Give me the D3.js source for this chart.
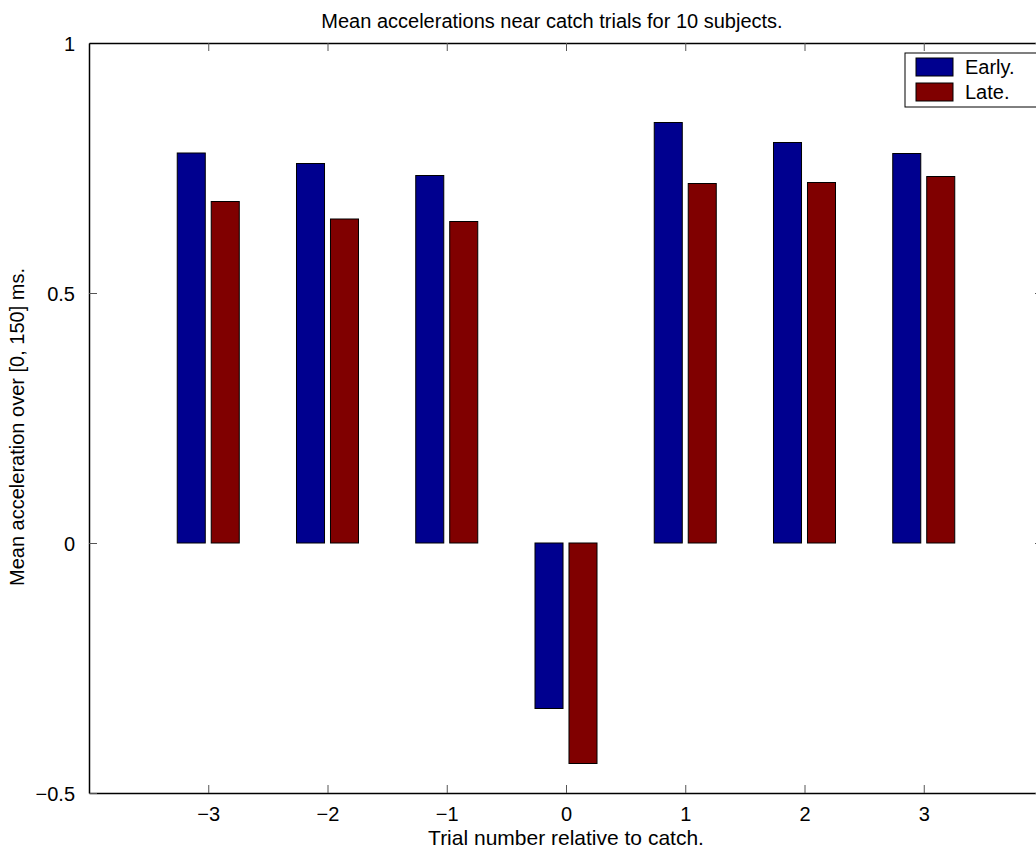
<!DOCTYPE html>
<html>
<head>
<meta charset="utf-8">
<script src="https://cdn.jsdelivr.net/npm/d3@7"></script>
<style>
  body { margin: 0; background: #fff; }
  text { font-family: "Liberation Sans", Arial, sans-serif; fill: #000; }
</style>
</head>
<body>
<script>
// values
var trials = [-3, -2, -1, 0, 1, 2, 3];
var early = [0.780, 0.759, 0.735, -0.331, 0.841, 0.801, 0.779];
var late = [0.683, 0.648, 0.643, -0.441, 0.719, 0.721, 0.733];
var xTicks = [-3, -2, -1, 0, 1, 2, 3];
var yTicks = [-0.5, 0, 0.5, 1];
var seriesNames = ["Early.", "Late."];

var width = 1036, height = 850,
    plotLeft = 89, plotRight = 1043, plotTop = 43, plotBottom = 793;

var x_scale = d3.scaleLinear().domain([-4, 4]).range([plotLeft, plotRight]);
var y_scale = d3.scaleLinear().domain([-0.5, 1]).range([plotBottom, plotTop]);

var fmt = function(d) { return String(d).replace("-", "\u2212"); };

var svg = d3.select("body").append("svg")
    .attr("width", width)
    .attr("height", height);

var series = [
  { name: seriesNames[0], values: early, color: "#00008f", off: [-0.26, -0.025] },
  { name: seriesNames[1], values: late, color: "#800000", off: [0.025, 0.26] }
];

// bars
series.forEach(function(s) {
  svg.append("g").selectAll("rect")
    .data(trials)
    .enter()
    .append("rect")
      .attr("x", function(d) { return x_scale(d + s.off[0]); })
      .attr("width", function(d) { return x_scale(d + s.off[1]) - x_scale(d + s.off[0]); })
      .attr("y", function(d, i) { return y_scale(Math.max(0, s.values[i])); })
      .attr("height", function(d, i) { return Math.abs(y_scale(s.values[i]) - y_scale(0)); })
      .attr("fill", s.color)
      .attr("stroke", "#000")
      .attr("stroke-width", 1);
});

// axes, ticks pointing inward like matlab
var x_axis = d3.axisBottom(x_scale).tickValues(xTicks).tickFormat(fmt).tickSizeInner(-8).tickSizeOuter(0).tickPadding(14);
var y_axis = d3.axisLeft(y_scale).tickValues(yTicks).tickFormat(fmt).tickSizeInner(-8).tickSizeOuter(0).tickPadding(14);
var x_top = d3.axisTop(x_scale).tickValues(xTicks).tickFormat("").tickSizeInner(-8).tickSizeOuter(0);
var y_right = d3.axisRight(y_scale).tickValues(yTicks).tickFormat("").tickSizeInner(-8).tickSizeOuter(0);

svg.append("g").attr("class", "x axis")
    .attr("transform", "translate(0," + plotBottom + ")").call(x_axis);
svg.append("g").attr("class", "y axis")
    .attr("transform", "translate(" + plotLeft + ",0)").call(y_axis);
svg.append("g").attr("class", "x axis top")
    .attr("transform", "translate(0," + plotTop + ")").call(x_top);
svg.append("g").attr("class", "y axis right")
    .attr("transform", "translate(" + plotRight + ",0)").call(y_right);

svg.selectAll(".axis path.domain").attr("stroke", "#000").attr("stroke-width", 1.5);
svg.selectAll(".axis .tick line").attr("stroke", "#555").attr("stroke-width", 1);
svg.selectAll(".axis .tick text").style("font-size", "20px").attr("fill", "#000");
svg.selectAll(".y.axis .tick text").attr("dy", "0.35em");

// title and labels
svg.append("text")
    .text("Mean accelerations near catch trials for 10 subjects.")
    .attr("x", 552).attr("y", 28)
    .attr("text-anchor", "middle")
    .style("font-size", "20px");

svg.append("text")
    .text("Trial number relative to catch.")
    .attr("x", (plotLeft + plotRight) / 2).attr("y", 845)
    .attr("text-anchor", "middle")
    .style("font-size", "21px");

svg.append("text")
    .text("Mean acceleration over [0, 150] ms.")
    .attr("transform", "translate(24,427) rotate(-90)")
    .attr("text-anchor", "middle")
    .style("font-size", "20px");

// legend
var legend = svg.append("g").attr("transform", "translate(905,53)");
legend.append("rect")
    .attr("width", 140).attr("height", 54)
    .attr("fill", "#fff").attr("stroke", "#000").attr("stroke-width", 1);
var item = legend.selectAll("g.item")
  .data(series)
  .enter()
  .append("g")
    .attr("class", "item")
    .attr("transform", function(d, i) { return "translate(11," + (5 + i * 25) + ")"; });
item.append("rect")
    .attr("width", 37).attr("height", 18)
    .attr("fill", function(d) { return d.color; })
    .attr("stroke", "#000");
item.append("text")
    .text(function(d) { return d.name; })
    .attr("x", 49).attr("y", 16)
    .style("font-size", "20px");
</script>
</body>
</html>
